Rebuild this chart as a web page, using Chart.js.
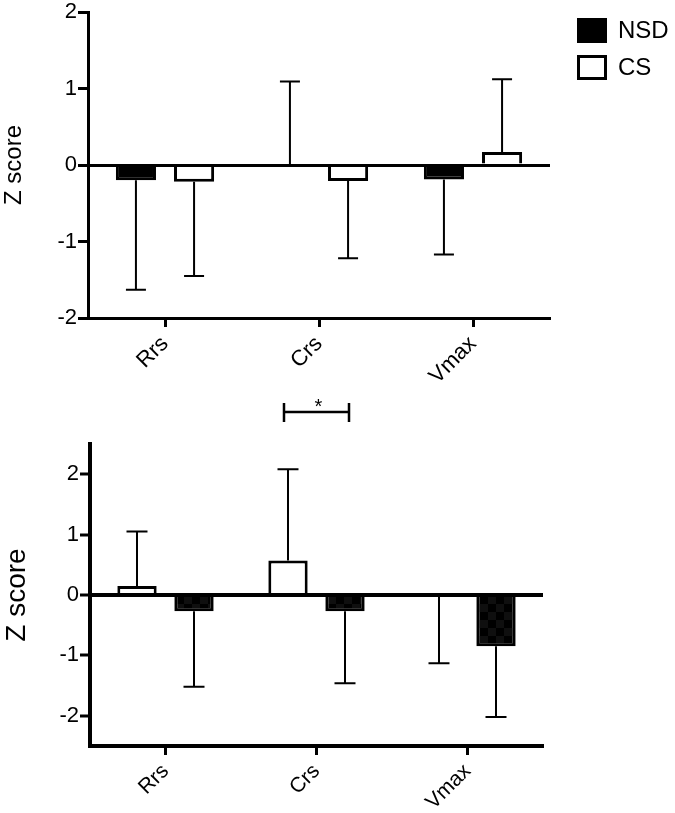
<!DOCTYPE html>
<html>
<head>
<meta charset="utf-8">
<script src="https://cdn.jsdelivr.net/npm/chart.js@4.4.0/dist/chart.umd.min.js"></script>
<style>
  html, body { margin: 0; padding: 0; background: #fff; }
  #wrap { position: relative; width: 675px; height: 813px; overflow: hidden; }
  canvas { position: absolute; left: 0; }
  #topChart { top: 0; }
  #bottomChart { top: 380px; }
</style>
</head>
<body>
<div id="wrap">
  <canvas id="topChart" width="675" height="400"></canvas>
  <canvas id="bottomChart" width="675" height="433"></canvas>
</div>
<script>
// categories and tick values shared by both panels
const categories = ['Rrs', 'Crs', 'Vmax'];
const yTicks = [-2, -1, 0, 1, 2];

// top panel: mean Z score and where the SD whisker ends
const topNsd = [-0.20, 0.0, -0.19];
const topNsdErr = [-1.63, 1.09, -1.17];
const topCs = [-0.22, -0.21, 0.17];
const topCsErr = [-1.45, -1.22, 1.12];

// bottom panel (CS drawn first here)
const botCs = [0.15, 0.57, -0.03];
const botCsErr = [1.05, 2.08, -1.13];
const botNsd = [-0.27, -0.27, -0.85];
const botNsdErr = [-1.52, -1.46, -2.02];

// significance mark in the bottom panel
const sigCategory = 'Crs';
const sigLabel = '*';

const FONT = "'Liberation Sans', Arial, Helvetica, sans-serif";

// small dark checker like the printed bars
function darkPattern() {
    const c = document.createElement('canvas');
    c.width = 16; c.height = 16;
    const g = c.getContext('2d');
    g.fillStyle = '#000';
    g.fillRect(0, 0, 16, 16);
    g.fillStyle = '#0f0f0f';
    g.fillRect(0, 0, 8, 8);
    g.fillRect(8, 8, 8, 8);
    return g.createPattern(c, 'repeat');
}

// one-sided SD whiskers, from the bar end to errEnd
const errorBars = {
    id: 'errorBars',
    afterDatasetsDraw(chart, args, opts) {
        const ctx = chart.ctx;
        const y = chart.scales.y;
        chart.data.datasets.forEach((ds, i) => {
            chart.getDatasetMeta(i).data.forEach((bar, j) => {
                const end = y.getPixelForValue(ds.errEnd[j]);
                ctx.save();
                ctx.strokeStyle = '#000';
                ctx.lineWidth = opts.width;
                ctx.beginPath();
                ctx.moveTo(bar.x, bar.y);
                ctx.lineTo(bar.x, end);
                ctx.moveTo(bar.x - opts.cap / 2, end);
                ctx.lineTo(bar.x + opts.cap / 2, end);
                ctx.stroke();
                ctx.restore();
            });
        });
    }
};

// legend at the top right of the first panel
const sideLegend = {
    id: 'sideLegend',
    afterDraw(chart, args, o) {
        const ctx = chart.ctx;
        chart.data.datasets.forEach((ds, i) => {
            const y = o.top + i * o.step;
            ctx.save();
            ctx.fillStyle = ds.backgroundColor;
            ctx.fillRect(o.left, y, o.boxW, o.boxH);
            ctx.lineWidth = 3;
            ctx.strokeStyle = '#000';
            ctx.strokeRect(o.left + 1.5, y + 1.5, o.boxW - 3, o.boxH - 3);
            ctx.fillStyle = '#000';
            ctx.font = o.fontSize + 'px ' + FONT;
            ctx.textBaseline = 'middle';
            ctx.fillText(ds.label, o.left + o.boxW + 11, y + o.boxH / 2 + 1);
            ctx.restore();
        });
    }
};

// bracket with star between the two bars of one category
const sigBracket = {
    id: 'sigBracket',
    afterDraw(chart, args, o) {
        const idx = categories.indexOf(sigCategory);
        const x1 = chart.getDatasetMeta(0).data[idx].x - o.pad;
        const x2 = chart.getDatasetMeta(1).data[idx].x + o.pad;
        const y = chart.chartArea.top - o.lift;
        const ctx = chart.ctx;
        ctx.save();
        ctx.strokeStyle = '#000';
        ctx.lineWidth = 2.5;
        ctx.beginPath();
        ctx.moveTo(x1, y); ctx.lineTo(x2, y);
        ctx.moveTo(x1, y - 9); ctx.lineTo(x1, y + 10);
        ctx.moveTo(x2, y - 9); ctx.lineTo(x2, y + 10);
        ctx.stroke();
        ctx.fillStyle = '#000';
        ctx.font = '20px ' + FONT;
        ctx.textAlign = 'center';
        ctx.textBaseline = 'alphabetic';
        ctx.fillText(sigLabel, (x1 + x2) / 2 + 2, y + 1);
        ctx.restore();
    }
};

function yScale(min, max, width, titleSize, lineW) {
    return {
        min: min,
        max: max,
        afterBuildTicks: s => { s.ticks = yTicks.map(v => ({ value: v })); },
        afterFit: s => { s.width = width; },
        ticks: { font: { family: FONT, size: 22, lineHeight: 1 }, color: '#000', padding: 1 },
        grid: {
            // only the zero line is drawn across the plot, over the bars
            color: c => (c.tick && c.tick.value === 0) ? '#000' : 'rgba(0,0,0,0)',
            lineWidth: lineW,
            drawTicks: true,
            tickLength: 10,
            tickColor: '#000',
            tickWidth: 3,
            z: 1
        },
        border: { display: true, color: '#000', width: lineW, z: 2 },
        title: { display: true, text: 'Z score', color: '#000', padding: 0, font: { family: FONT, size: titleSize } }
    };
}

function xScale(height, labelSize, lineW) {
    return {
        afterFit: s => { s.height = height; },
        grid: {
            display: true,
            drawOnChartArea: false,
            drawTicks: true,
            tickLength: 9,
            tickColor: '#000',
            tickWidth: 3,
            offset: false
        },
        border: { display: true, color: '#000', width: lineW },
        ticks: { font: { family: FONT, size: labelSize }, color: '#000', maxRotation: 45, minRotation: 45, padding: 4 }
    };
}

function barSet(label, values, errEnd, fill) {
    return {
        label: label,
        data: values,
        errEnd: errEnd,
        backgroundColor: fill,
        borderColor: '#000',
        borderWidth: 3,
        barPercentage: 0.69,
        categoryPercentage: 0.755
    };
}

// top panel
new Chart(document.getElementById('topChart'), {
    type: 'bar',
    data: {
        labels: categories,
        datasets: [
            barSet('NSD', topNsd, topNsdErr, '#000'),
            barSet('CS', topCs, topCsErr, '#fff')
        ]
    },
    options: {
        responsive: false,
        animation: false,
        layout: { padding: { top: 0, right: 125, bottom: 0, left: 0 } },
        scales: {
            x: xScale(82, 22, 3),
            y: yScale(-2, 2, 88, 24, 3)
        },
        plugins: {
            legend: { display: false },
            tooltip: { enabled: false },
            errorBars: { width: 2, cap: 20 },
            sideLegend: { left: 577, top: 18, step: 37, boxW: 30, boxH: 25, fontSize: 24 }
        }
    },
    plugins: [errorBars, sideLegend]
});

// bottom panel
new Chart(document.getElementById('bottomChart'), {
    type: 'bar',
    data: {
        labels: categories,
        datasets: [
            barSet('CS', botCs, botCsErr, '#fff'),
            barSet('NSD', botNsd, botNsdErr, darkPattern())
        ]
    },
    options: {
        responsive: false,
        animation: false,
        layout: { padding: { top: 64, right: 132, bottom: 0, left: 0 } },
        scales: {
            x: xScale(67, 21, 4),
            y: yScale(-2.5, 2.5, 90, 28, 4)
        },
        plugins: {
            legend: { display: false },
            tooltip: { enabled: false },
            errorBars: { width: 2, cap: 21 },
            sigBracket: { pad: 4, lift: 32 }
        }
    },
    plugins: [errorBars, sigBracket]
});
</script>
</body>
</html>
